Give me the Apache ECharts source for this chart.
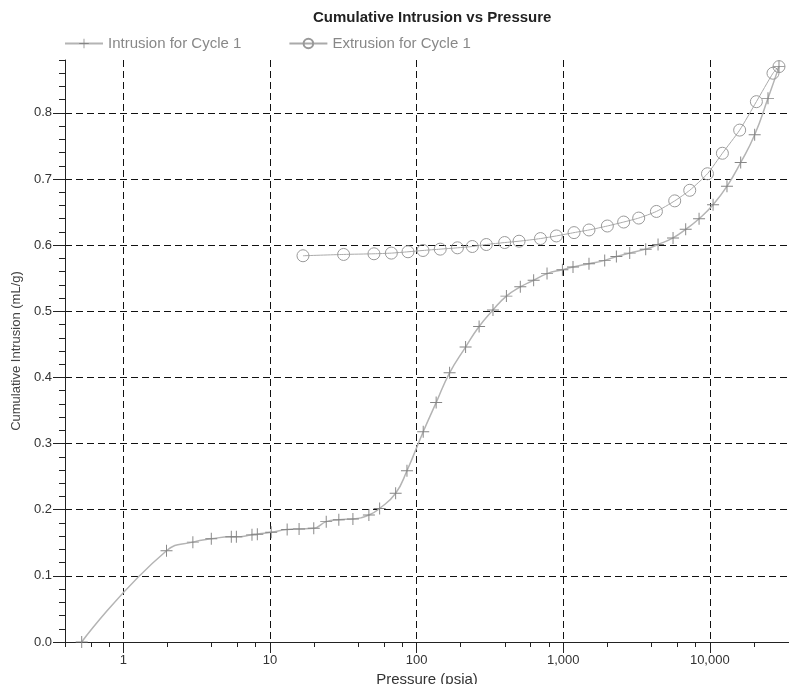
<!DOCTYPE html>
<html>
<head>
<meta charset="utf-8">
<script src="https://cdn.jsdelivr.net/npm/echarts@6/dist/echarts.min.js"></script>
<style>
  html, body { margin: 0; padding: 0; background: #fff; }
  #chart { width: 789px; height: 684px; }
</style>
</head>
<body>
<div id="chart"></div>
<script>
// pressure (psia) / cumulative intrusion (mL/g)
const intrusionPressure = [0.52, 1.97, 2.98, 3.98, 5.45, 5.9, 7.54, 8.2, 10.2, 13.1, 15.8, 19.9, 24.2, 29.5,
  36.8, 47.3, 56, 72, 86, 111, 136, 168, 216, 267, 332, 410, 510, 629, 776, 988, 1167, 1500, 1920,
  2306, 2844, 3656, 4437, 5616, 6850, 8450, 10530, 13100, 16250, 20240, 24950, 29650];
const intrusionVolume = [0.0, 0.138, 0.151, 0.156, 0.159, 0.159, 0.162, 0.163, 0.166, 0.170, 0.171, 0.172, 0.182, 0.185,
  0.186, 0.192, 0.202, 0.225, 0.259, 0.318, 0.362, 0.407, 0.446, 0.477, 0.502, 0.523, 0.537, 0.547, 0.557, 0.563, 0.567, 0.572, 0.577,
  0.583, 0.588, 0.594, 0.601, 0.611, 0.624, 0.640, 0.661, 0.689, 0.725, 0.767, 0.822, 0.870];

const extrusionPressure = [16.8, 31.8, 51.2, 67.3, 87.4, 110.6, 145, 190, 240, 299, 399, 500, 700, 899,
  1186, 1500, 2001, 2586, 3275, 4325, 5765, 7300, 9640, 12190, 15990, 20790, 26980, 29650];
const extrusionVolume = [0.584, 0.586, 0.587, 0.588, 0.590, 0.592, 0.594, 0.596, 0.598, 0.601, 0.604, 0.606, 0.610, 0.614,
  0.619, 0.623, 0.629, 0.635, 0.641, 0.651, 0.667, 0.683, 0.708, 0.739, 0.774, 0.817, 0.860, 0.870];

// axis ticks
const xMajorTicks = [1, 10, 100, 1000, 10000];
const xMinorTicks = [0.4, 0.6, 0.8, 2, 4, 6, 8, 20, 40, 60, 80, 200, 400, 600, 800,
  2000, 4000, 6000, 8000, 20000];
const yMajorTicks = [0, 0.1, 0.2, 0.3, 0.4, 0.5, 0.6, 0.7, 0.8];
const yMinorTicks = [];
for (let i = 1; i <= 44; i++) {
  if (i % 5 !== 0) yMinorTicks.push(+(i * 0.02).toFixed(2));
}

const plusSymbol = 'path://M0,4.6H10V5.4H0Z M4.6,0H5.4V10H4.6Z';
const font = 'Liberation Sans';
const axisColor = '#222';
const dashed = { color: '#111', width: 1, type: [7, 4] };

const xMin = 0.4, xMax = 34700;

const chart = echarts.init(document.getElementById('chart'));
chart.setOption({
  animation: false,
  textStyle: { fontFamily: font },
  title: {
    text: 'Cumulative Intrusion vs Pressure',
    left: 308,
    top: 5,
    textStyle: { fontSize: 15, fontWeight: 'bold', color: '#222', fontFamily: font }
  },
  legend: {
    left: 59,
    top: 31,
    itemWidth: 38,
    itemHeight: 12,
    itemGap: 47,
    textStyle: { fontSize: 15, color: '#888', fontFamily: font },
    data: ['Intrusion for Cycle 1', 'Extrusion for Cycle 1']
  },
  grid: { left: 65, right: 0, top: 60, bottom: 42, outerBoundsMode: 'none' },
  xAxis: [
    {
      type: 'log',
      min: xMin,
      max: xMax,
      position: 'bottom',
      name: 'Pressure (psia)',
      nameLocation: 'middle',
      nameGap: 27,
      nameTextStyle: { fontSize: 15, color: '#333' },
      axisLine: { show: true, onZero: false, lineStyle: { color: axisColor } },
      axisTick: { show: true, length: 11, customValues: xMajorTicks, lineStyle: { color: axisColor } },
      axisLabel: {
        fontSize: 13, color: '#333', margin: 12,
        showMinLabel: false, showMaxLabel: false,
        formatter: v => {
          const l = Math.log10(v);
          return Math.abs(l - Math.round(l)) < 1e-6 ? v.toLocaleString('en-US') : '';
        }
      },
      splitLine: { show: true, showMinLine: true, showMaxLine: true, lineStyle: dashed }
    },
    {
      type: 'log',
      min: xMin,
      max: xMax,
      position: 'bottom',
      axisLine: { show: false },
      axisTick: { show: true, length: 5, customValues: xMinorTicks, lineStyle: { color: axisColor } },
      axisLabel: { show: false },
      splitLine: { show: false }
    },
    {
      type: 'log',
      min: xMin,
      max: xMax,
      position: 'top',
      axisLine: { show: true, lineStyle: { color: axisColor } },
      axisTick: { show: false },
      axisLabel: { show: false },
      splitLine: { show: false }
    }
  ],
  yAxis: [
    {
      type: 'value',
      min: 0,
      max: 0.88,
      interval: 0.1,
      position: 'left',
      name: 'Cumulative Intrusion (mL/g)',
      nameLocation: 'middle',
      nameGap: 42,
      nameTextStyle: { fontSize: 13, color: '#444' },
      axisLine: { show: true, lineStyle: { color: axisColor } },
      axisTick: { show: true, length: 12, customValues: yMajorTicks, lineStyle: { color: axisColor } },
      axisLabel: { fontSize: 13, color: '#333', margin: 13, showMaxLabel: false, formatter: v => v.toFixed(1) },
      splitLine: { show: true, showMinLine: false, showMaxLine: true, lineStyle: dashed }
    },
    {
      type: 'value',
      min: 0,
      max: 0.88,
      position: 'left',
      axisLine: { show: false },
      axisTick: { show: true, length: 6, customValues: yMinorTicks, lineStyle: { color: axisColor } },
      axisLabel: { show: false },
      splitLine: { show: false }
    }
  ],
  series: [
    {
      name: 'Intrusion for Cycle 1',
      type: 'line',
      xAxisIndex: 0,
      yAxisIndex: 0,
      data: intrusionPressure.map((p, i) => [p, intrusionVolume[i]]),
      smooth: 0.5,
      symbol: plusSymbol,
      symbolSize: 12,
      itemStyle: { color: '#858585' },
      lineStyle: { color: '#b4b4b4', width: 1.5 }
    },
    {
      name: 'Extrusion for Cycle 1',
      type: 'line',
      xAxisIndex: 0,
      yAxisIndex: 0,
      data: extrusionPressure.map((p, i) => [p, extrusionVolume[i]]),
      smooth: 0.2,
      symbol: 'circle',
      symbolSize: 12,
      itemStyle: { color: 'rgba(255,255,255,0)', borderColor: '#999', borderWidth: 1 },
      lineStyle: { color: '#aaa', width: 1 }
    }
  ]
});
</script>
</body>
</html>
